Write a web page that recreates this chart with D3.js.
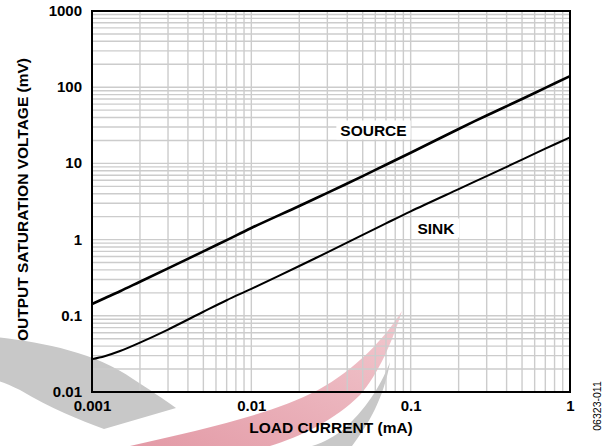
<!DOCTYPE html>
<html>
<head>
<meta charset="utf-8">
<script src="https://cdn.jsdelivr.net/npm/d3@7"></script>
<style>
  html, body { margin: 0; padding: 0; background: #ffffff; }
  svg { display: block; }
  text { font-family: "Liberation Sans", Arial, Helvetica, sans-serif; }
</style>
</head>
<body>
<svg id="chart" width="605" height="446"></svg>
<script>
// ---- data ----
const loadCurrent = [0.001, 0.0012, 0.0015, 0.002, 0.003, 0.005, 0.007, 0.01, 0.02, 0.03, 0.05, 0.07, 0.1, 0.2, 0.3, 0.5, 0.7, 1];
const sourceMV    = [0.143, 0.17, 0.21, 0.28, 0.42, 0.70, 0.985, 1.42, 2.76, 4.1, 6.8, 9.6, 13.8, 28.3, 42.5, 70, 98, 140];
const sinkMV      = [0.027, 0.0295, 0.0345, 0.0445, 0.066, 0.113, 0.16, 0.226, 0.45, 0.68, 1.15, 1.63, 2.35, 4.6, 6.8, 11.2, 15.6, 22];
const seriesNames = ["SOURCE", "SINK"];
const xTickValues = [0.001, 0.01, 0.1, 1];
const xTickLabels = ["0.001", "0.01", "0.1", "1"];
const yTickValues = [0.01, 0.1, 1, 10, 100, 1000];
const yTickLabels = ["0.01", "0.1", "1", "10", "100", "1000"];
const xTitle = "LOAD CURRENT (mA)";
const yTitle = "OUTPUT SATURATION VOLTAGE (mV)";
const figureCode = "06323-011";

// ---- layout ----
const W = 605, H = 446;
const plot = { left: 92, right: 570, top: 11, bottom: 392 };

const svg = d3.select("#chart");
svg.append("rect").attr("width", W).attr("height", H).attr("fill", "#ffffff");

const x = d3.scaleLog().domain([0.001, 1]).range([plot.left, plot.right]);
const y = d3.scaleLog().domain([0.01, 1000]).range([plot.bottom, plot.top]);

// ---- decorative watermark (behind the grid) ----
const defs = svg.append("defs");
const grad = defs.append("linearGradient").attr("id", "redGrad")
  .attr("x1", "0%").attr("y1", "100%").attr("x2", "100%").attr("y2", "0%");
grad.append("stop").attr("offset", "0%").attr("stop-color", "#e39aa6");
grad.append("stop").attr("offset", "100%").attr("stop-color", "#f2c9cf");

const wm = svg.append("g").attr("class", "watermark");
wm.append("path")
  .attr("d", "M-5,337 C40,342 95,352 133,379 C150,390 162,398 176,408 L104,429 C80,420 50,408 20,390 C10,385 0,381 -5,380 Z")
  .attr("fill", "#c8c8c8");
wm.append("path")
  .attr("d", "M130,446 C200,430 270,415 318,390 C355,370 385,338 402,311 C393,340 378,375 360,395 C335,420 300,437 270,446 Z")
  .attr("fill", "url(#redGrad)");
wm.append("path")
  .attr("d", "M390,362 C383,380 370,405 345,428 C335,436 325,442 312,446 L352,446 C368,425 384,398 390,362 Z")
  .attr("fill", "#c8c8c8");

// ---- grid ----
const grid = svg.append("g").attr("class", "grid")
  .attr("stroke", "#cccccc").attr("stroke-width", 1.4).attr("fill", "none");
grid.selectAll("line.v").data(x.ticks()).join("line").attr("class", "v")
  .attr("x1", d => x(d)).attr("x2", d => x(d))
  .attr("y1", plot.top).attr("y2", plot.bottom);
grid.selectAll("line.h").data(y.ticks()).join("line").attr("class", "h")
  .attr("x1", plot.left).attr("x2", plot.right)
  .attr("y1", d => y(d)).attr("y2", d => y(d));

// ---- curves ----
const line = d3.line()
  .x(d => x(d[0])).y(d => y(d[1]))
  .curve(d3.curveCatmullRom.alpha(0.5));

svg.append("path")
  .datum(loadCurrent.map((c, i) => [c, sourceMV[i]]))
  .attr("d", line).attr("fill", "none")
  .attr("stroke", "#000").attr("stroke-width", 2.6).attr("stroke-linejoin", "round");
svg.append("path")
  .datum(loadCurrent.map((c, i) => [c, sinkMV[i]]))
  .attr("d", line).attr("fill", "none")
  .attr("stroke", "#000").attr("stroke-width", 2).attr("stroke-linejoin", "round");

// ---- series labels with white backing ----
const labelPos = [
  { name: seriesNames[0], cx: 373.5, base: 135.5 },
  { name: seriesNames[1], cx: 436, base: 233.5 }
];
labelPos.forEach(l => {
  const g = svg.append("g");
  const bg = g.append("rect").attr("fill", "#fff");
  const t = g.append("text").attr("x", l.cx).attr("y", l.base)
    .attr("text-anchor", "middle").attr("font-size", 15.5).attr("font-weight", "bold")
    .attr("fill", "#000").text(l.name);
  const b = t.node().getBBox();
  bg.attr("x", b.x - 4).attr("y", b.y - 1).attr("width", b.width + 8).attr("height", b.height + 2);
});

// ---- frame ----
svg.append("rect")
  .attr("x", plot.left).attr("y", plot.top)
  .attr("width", plot.right - plot.left).attr("height", plot.bottom - plot.top)
  .attr("fill", "none").attr("stroke", "#000").attr("stroke-width", 2);

// ---- axes ----
const xAxis = d3.axisBottom(x).tickValues(xTickValues)
  .tickFormat((d, i) => xTickLabels[i]).tickSize(0).tickPadding(8.5);
const gx = svg.append("g").attr("transform", `translate(0,${plot.bottom})`).call(xAxis);
gx.select(".domain").remove();
gx.selectAll("text").attr("font-size", 15).attr("font-weight", "bold")
  .attr("fill", "#000").attr("font-family", "Liberation Sans, Arial, sans-serif");

const yAxis = d3.axisLeft(y).tickValues(yTickValues)
  .tickFormat((d, i) => yTickLabels[i]).tickSize(0).tickPadding(10);
const gy = svg.append("g").attr("transform", `translate(${plot.left},0)`).call(yAxis);
gy.select(".domain").remove();
gy.selectAll("text").attr("font-size", 15).attr("font-weight", "bold")
  .attr("fill", "#000").attr("dy", "0.3em").attr("font-family", "Liberation Sans, Arial, sans-serif");

// ---- titles ----
svg.append("text")
  .attr("x", (plot.left + plot.right) / 2).attr("y", 433)
  .attr("text-anchor", "middle").attr("font-size", 15.5).attr("font-weight", "bold")
  .attr("fill", "#000").text(xTitle);
svg.append("text")
  .attr("transform", `translate(27.5,${(52 + 347) / 2}) rotate(-90)`)
  .attr("text-anchor", "middle").attr("font-size", 15.5).attr("font-weight", "bold")
  .attr("fill", "#000").text(yTitle);
svg.append("text")
  .attr("transform", "translate(601,406) rotate(-90)")
  .attr("text-anchor", "middle").attr("font-size", 10.5)
  .attr("fill", "#000").text(figureCode);
</script>
</body>
</html>
